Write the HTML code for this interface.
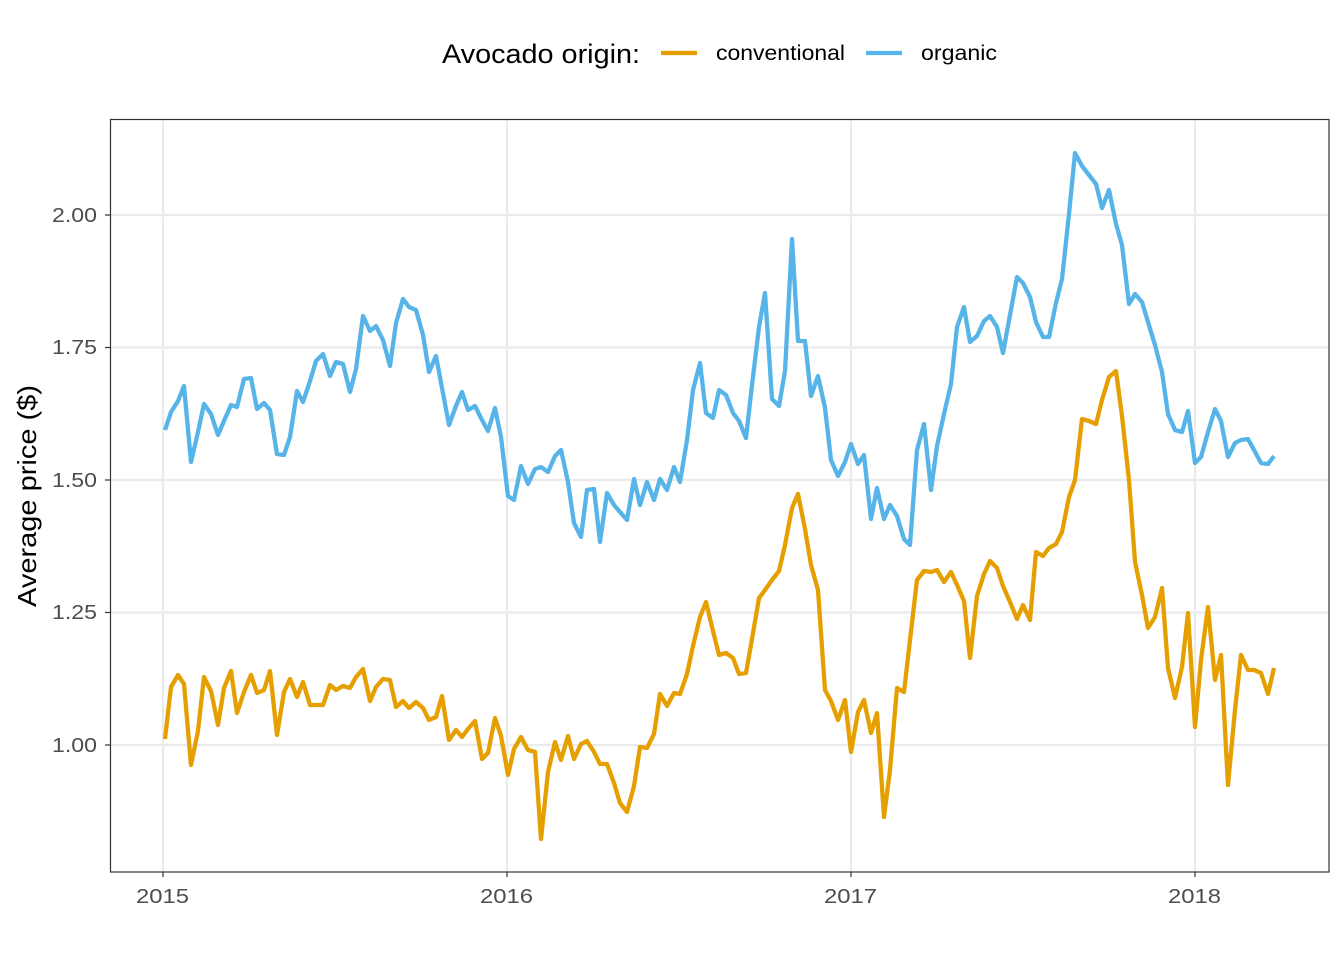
<!DOCTYPE html>
<html><head><meta charset="utf-8"><style>body{margin:0;background:#fff}svg{display:block}text{font-family:"Liberation Sans",sans-serif}</style></head>
<body>
<svg width="1344" height="960" viewBox="0 0 1344 960" xmlns="http://www.w3.org/2000/svg">
<rect width="1344" height="960" fill="#fff"/>
<g stroke="#ebebeb" stroke-width="2.2">
<line x1="110" x2="1329" y1="215" y2="215"/><line x1="110" x2="1329" y1="347.5" y2="347.5"/><line x1="110" x2="1329" y1="480" y2="480"/><line x1="110" x2="1329" y1="612.5" y2="612.5"/><line x1="110" x2="1329" y1="745" y2="745"/>
<line x1="163" x2="163" y1="119" y2="872"/><line x1="507" x2="507" y1="119" y2="872"/><line x1="851" x2="851" y1="119" y2="872"/><line x1="1195" x2="1195" y1="119" y2="872"/>
</g>
<polyline fill="none" stroke="#E69F00" stroke-width="4.3" stroke-linejoin="round" points="165,739 171,687 178,675 184,684 191,765 198,731 204,677 211,691 218,725 224,688 231,671 237,713 244,692 251,675 257,693 264,690 270,671 277,735 284,692 290,679 297,697 303,682 310,705 316,705 323,705 330,685 336,690 343,686 350,688 356,677 363,669 370,701 376,687 383,679 390,680 396,707 403,701 409,708 416,702 423,708 429,720 436,717 442,696 449,740 456,730 462,737 468,729 475,721 482,759 488,753 495,718 501,736 508,775 514,749 521,737 528,750 535,752 541,839 548,772 555,742 561,760 568,736 574,759 581,744 587,741 594,752 600,764 607,764 614,783 620,803 627,812 634,786 640,747 647,748 654,734 660,694 667,706 674,693 680,694 687,674 693,646 700,617 706,602 713,631 719,655 726,653 733,658 739,674 746,673 752,639 759,598 765,590 772,580 779,571 785,545 792,508 798,494 805,529 811,565 818,590 825,690 831,701 838,720 845,700 851,752 858,712 864,700 871,733 877,713 884,817 890,770 897,688 904,692 910,640 917,580 924,571 931,572 937,570 944,582 951,572 957,585 964,601 970,658 977,596 984,574 990,561 997,568 1003,586 1010,602 1017,619 1023,605 1030,620 1036,552 1043,556 1049,548 1056,544 1062,532 1069,497 1075,480 1082,419 1089,421 1096,424 1102,400 1109,377 1116,371 1122,416 1129,480 1135,562 1142,595 1148,628 1155,617 1162,588 1168,668 1175,698 1182,667 1188,613 1195,727 1201,660 1208,607 1215,680 1221,655 1228,785 1235,710 1241,655 1248,670 1254,670 1261,673 1268,694 1274,668"/>
<polyline fill="none" stroke="#56B4E9" stroke-width="4.3" stroke-linejoin="round" points="165,430 171,412 178,401 184,386 191,462 198,432 204,404 211,414 218,435 224,421 231,405 237,407 244,379 251,378 257,409 264,403 270,410 277,454 284,455 290,437 297,391 303,402 310,381 316,361 323,354 330,376 336,362 343,364 350,392 356,369 363,316 370,331 376,326 383,340 390,366 396,323 403,299 409,307 416,310 423,335 429,372 436,356 442,388 449,425 456,406 462,392 468,410 475,406 482,420 488,431 495,408 501,437 508,496 514,500 521,466 528,484 535,469 541,467 548,472 555,456 561,450 568,482 574,523 581,537 587,490 594,489 600,542 607,493 614,505 620,512 627,520 634,479 640,505 647,482 654,500 660,479 667,490 674,467 680,482 687,440 693,390 700,363 706,413 713,418 719,390 726,395 733,413 739,421 746,438 752,385 759,327 765,293 772,399 779,406 785,371 792,239 798,341 805,341 811,396 818,376 825,408 831,460 838,476 845,462 851,444 858,464 864,455 871,519 877,488 884,519 890,505 897,516 904,539 910,545 917,450 924,424 931,490 937,446 944,414 951,384 957,327 964,307 970,342 977,336 984,321 990,316 997,327 1003,353 1010,315 1017,277 1023,283 1030,297 1036,322 1043,337 1049,337 1056,303 1062,279 1069,214 1075,153 1082,166 1089,175 1096,184 1102,208 1109,190 1116,224 1122,245 1129,304 1135,294 1142,302 1148,322 1155,345 1162,372 1168,414 1175,430 1182,432 1188,411 1195,463 1201,457 1208,432 1215,409 1221,421 1228,457 1235,443 1241,440 1248,439 1254,450 1261,463 1268,464 1274,456"/>
<rect x="110.5" y="119.5" width="1218.5" height="752.5" fill="none" stroke="#333" stroke-width="1.2"/>
<g stroke="#333" stroke-width="1.2">
<line x1="105" x2="110" y1="215" y2="215"/><line x1="105" x2="110" y1="347.5" y2="347.5"/><line x1="105" x2="110" y1="480" y2="480"/><line x1="105" x2="110" y1="612.5" y2="612.5"/><line x1="105" x2="110" y1="745" y2="745"/>
<line x1="163" x2="163" y1="872" y2="877"/><line x1="507" x2="507" y1="872" y2="877"/><line x1="851" x2="851" y1="872" y2="877"/><line x1="1195" x2="1195" y1="872" y2="877"/>
</g>
<g font-size="20" fill="#4d4d4d" text-anchor="end">
<text x="97" y="222" textLength="45" lengthAdjust="spacingAndGlyphs">2.00</text><text x="97" y="354" textLength="45" lengthAdjust="spacingAndGlyphs">1.75</text><text x="97" y="487" textLength="45" lengthAdjust="spacingAndGlyphs">1.50</text><text x="97" y="619" textLength="45" lengthAdjust="spacingAndGlyphs">1.25</text><text x="97" y="752" textLength="45" lengthAdjust="spacingAndGlyphs">1.00</text>
</g>
<g font-size="20" fill="#4d4d4d">
<text x="136" y="903" textLength="53" lengthAdjust="spacingAndGlyphs">2015</text><text x="480" y="903" textLength="53" lengthAdjust="spacingAndGlyphs">2016</text><text x="824" y="903" textLength="53" lengthAdjust="spacingAndGlyphs">2017</text><text x="1168" y="903" textLength="53" lengthAdjust="spacingAndGlyphs">2018</text>
</g>
<text transform="translate(36,607) rotate(-90)" font-size="26" fill="#000" textLength="222" lengthAdjust="spacingAndGlyphs">Average price ($)</text>
<text x="442" y="63" font-size="27" fill="#000" textLength="198" lengthAdjust="spacingAndGlyphs">Avocado origin:</text>
<line x1="661" x2="697" y1="53" y2="53" stroke="#E69F00" stroke-width="4.3"/>
<text x="716" y="60" font-size="21" fill="#000" textLength="129" lengthAdjust="spacingAndGlyphs">conventional</text>
<line x1="866" x2="902" y1="53" y2="53" stroke="#56B4E9" stroke-width="4.3"/>
<text x="921" y="60" font-size="21" fill="#000" textLength="76" lengthAdjust="spacingAndGlyphs">organic</text>
</svg>
</body></html>
